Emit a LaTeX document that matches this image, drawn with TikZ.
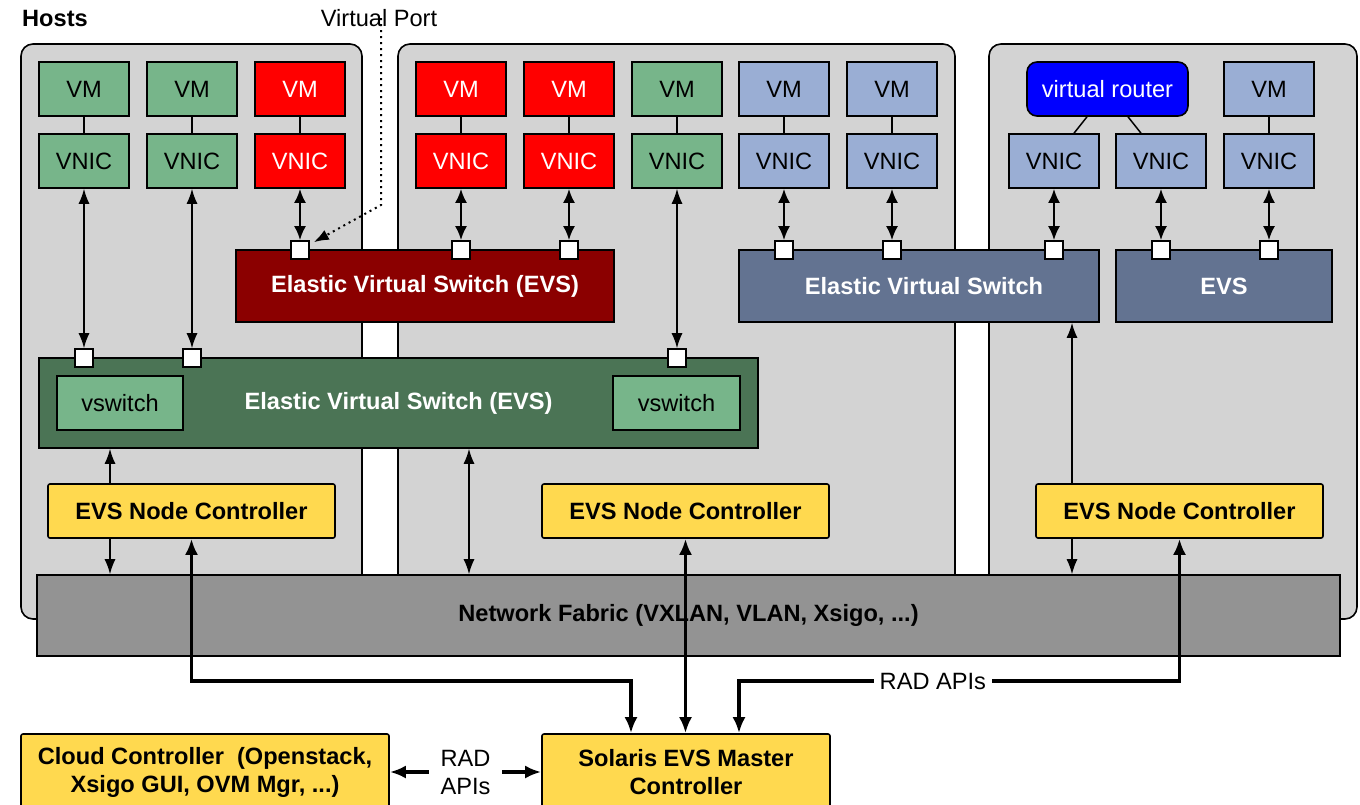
\documentclass[tikz,border=0pt]{standalone}
\usepackage{fontspec}
\setmainfont{Liberation Sans}
\usetikzlibrary{arrows.meta}

\definecolor{hostgray}{HTML}{D3D3D3}
\definecolor{fabricgray}{HTML}{939393}
\definecolor{vmgreen}{HTML}{77B58A}
\definecolor{evsgreen}{HTML}{4B7455}
\definecolor{vmred}{HTML}{FF0000}
\definecolor{evsred}{HTML}{8B0000}
\definecolor{vmblue}{HTML}{9AAED4}
\definecolor{evsblue}{HTML}{637391}
\definecolor{routerblue}{HTML}{0000FF}
\definecolor{ctrlyellow}{HTML}{FFD94F}

\newcommand{\sz}{\fontsize{23.6}{28}\selectfont}

\begin{document}
\begin{tikzpicture}[x=1pt, y=-1pt, font=\sz,
  box/.style={draw, line width=1.6pt, minimum width=90pt, minimum height=54pt, inner sep=0pt, font=\sz},
  gbox/.style={box, fill=vmgreen},
  rbox/.style={box, fill=vmred, text=white},
  bbox/.style={box, fill=vmblue},
  switch/.style={draw, line width=1.6pt, minimum height=72pt, text=white, font=\sz\bfseries},
  ctrl/.style={draw, line width=1.6pt, fill=ctrlyellow, rounded corners=2pt, minimum width=287pt, minimum height=54pt, font=\sz\bfseries},
  host/.style={draw, line width=1.6pt, fill=hostgray, rounded corners=12pt},
  link/.style={line width=1.5pt},
  thinbi/.style={line width=1.4pt, {Latex[length=15pt,width=11pt]}-{Latex[length=15pt,width=11pt]}},
  thinarr/.style={line width=1.4pt, -{Latex[length=15pt,width=11pt]}},
  medbi/.style={line width=2.4pt, {Latex[length=14pt,width=12pt]}-{Latex[length=14pt,width=12pt]}},
  bigbi/.style={line width=3.2pt, {Latex[length=16pt,width=13pt]}-{Latex[length=16pt,width=13pt]}}]
\def\port{node [draw, fill=white, line width=1.6pt, minimum size=18pt, inner sep=0pt] }
\useasboundingbox (0,0) rectangle (1360,804);

% hosts
\draw[host] (21,44) rectangle (362,619);
\draw[host] (398,44) rectangle (955,619);
\draw[host] (989,44) rectangle (1357,619);
\node[anchor=west, inner sep=0pt, font=\sz\bfseries] (hosts) at (22,18) {Hosts};

% VMs and VNICs
\node[gbox] (vm1) at (84,89) {VM};
\node[gbox] (vnic1) at (84,161) {VNIC};
\node[gbox] (vm2) at (192,89) {VM};
\node[gbox] (vnic2) at (192,161) {VNIC};
\node[rbox] (vm3) at (300,89) {VM};
\node[rbox] (vnic3) at (300,161) {VNIC};
\node[rbox] (vm4) at (461,89) {VM};
\node[rbox] (vnic4) at (461,161) {VNIC};
\node[rbox] (vm5) at (569,89) {VM};
\node[rbox] (vnic5) at (569,161) {VNIC};
\node[gbox] (vm6) at (677,89) {VM};
\node[gbox] (vnic6) at (677,161) {VNIC};
\node[bbox] (vm7) at (784,89) {VM};
\node[bbox] (vnic7) at (784,161) {VNIC};
\node[bbox] (vm8) at (892,89) {VM};
\node[bbox] (vnic8) at (892,161) {VNIC};
\node[box, fill=routerblue, text=white, rounded corners=10pt, minimum width=161pt] (router) at (1107.5,89) {virtual router};
\node[bbox] (vnic9) at (1054,161) {VNIC};
\node[bbox] (vnic10) at (1161,161) {VNIC};
\node[bbox] (vm11) at (1269,89) {VM};
\node[bbox] (vnic11) at (1269,161) {VNIC};

% switches
\node[switch, fill=evsred, minimum width=378pt] (revs) at (425,286) {\raisebox{-3pt}{Elastic Virtual Switch (EVS)}};
\node[switch, fill=evsblue, minimum width=360pt] (bevs) at (919,286) {\raisebox{1pt}{\hspace{10pt}Elastic Virtual Switch}};
\node[switch, fill=evsblue, minimum width=216pt] (sevs) at (1224,286) {EVS};
\node[switch, fill=evsgreen, minimum width=719pt, minimum height=90pt] (gevs) at (398.5,403) {\raisebox{-3pt}{Elastic Virtual Switch (EVS)}};
\node[gbox, minimum width=126pt] (vsw1) at (120,403) {vswitch};
\node[gbox, minimum width=127pt] (vsw2) at (676.5,403) {vswitch};

% ports
\draw (84,358) \port (p1) {};
\draw (192,358) \port (p2) {};
\draw (677,358) \port (p3) {};
\draw (300,250) \port (p4) {};
\draw (461,250) \port (p5) {};
\draw (569,250) \port (p6) {};
\draw (784,250) \port (p7) {};
\draw (892,250) \port (p8) {};
\draw (1054,250) \port (p9) {};
\draw (1161,250) \port (p10) {};
\draw (1269,250) \port (p11) {};

% controllers and fabric
\node[ctrl] (nc1) at (191.5,511) {EVS Node Controller};
\node[ctrl] (nc2) at (685.5,511) {EVS Node Controller};
\node[ctrl] (nc3) at (1179.5,511) {EVS Node Controller};
\node[draw, line width=1.6pt, fill=fabricgray, minimum width=1303pt, minimum height=81pt, font=\sz\bfseries] (fabric) at (688.5,615.5) {\raisebox{-3pt}{Network Fabric (VXLAN, VLAN, Xsigo, ...)}};
\node[ctrl, minimum width=288pt, minimum height=76pt, align=center] (master) at (686,772) {Solaris EVS Master\\Controller};
\node[ctrl, minimum width=368pt, minimum height=76pt, align=center] (cloud) at (205,772) {Cloud Controller\ \ (Openstack,\\Xsigo GUI, OVM Mgr, ...)};

% VM to VNIC
\draw[link] (vm1) -- (vnic1);
\draw[link] (vm2) -- (vnic2);
\draw[link] (vm3) -- (vnic3);
\draw[link] (vm4) -- (vnic4);
\draw[link] (vm5) -- (vnic5);
\draw[link] (vm6) -- (vnic6);
\draw[link] (vm7) -- (vnic7);
\draw[link] (vm8) -- (vnic8);
\draw[link] (vm11) -- (vnic11);
\draw[link] (1087,0 |- router.south) -- (1074,0 |- vnic9.north);
\draw[link] (1128,0 |- router.south) -- (1141,0 |- vnic10.north);

% VNIC to port
\draw[thinbi] (vnic1) -- (p1);
\draw[thinbi] (vnic2) -- (p2);
\draw[thinbi] (vnic6) -- (p3);
\draw[medbi] (vnic3) -- (p4);
\draw[medbi] (vnic4) -- (p5);
\draw[medbi] (vnic5) -- (p6);
\draw[medbi] (vnic7) -- (p7);
\draw[medbi] (vnic8) -- (p8);
\draw[medbi] (vnic9) -- (p9);
\draw[medbi] (vnic10) -- (p10);
\draw[medbi] (vnic11) -- (p11);

% virtual port pointer
\node[inner sep=0pt] (vport) at (379,18) {Virtual Port};
\coordinate (vpbend) at (381,205);
\draw[line width=2pt, dash pattern=on 2pt off 4pt, -{Latex[length=15pt,width=11pt]}] (381,0 |- vport.center) -- (vpbend) -- ([shift={(4pt,-2pt)}]p4.north east);

% node controllers
\draw[thinarr] (110,0 |- nc1.north) -- (110,0 |- gevs.south);
\draw[thinarr] (110,0 |- nc1.south) -- (110,0 |- fabric.north);
\draw[thinbi] (469,0 |- gevs.south) -- (469,0 |- fabric.north);
\draw[thinarr] (1072,0 |- nc3.north) -- (1072,0 |- bevs.south);
\draw[thinarr] (1072,0 |- nc3.south) -- (1072,0 |- fabric.north);

% RAD APIs
\draw[bigbi] (nc1.south) |- (631,681) -- (master.north -| 631,0);
\draw[bigbi] (nc2.south) -- (master.north -| nc2.south);
\draw[bigbi] (nc3.south) |- (739,681) node[pos=0.78, fill=white, inner xsep=6pt] (radr) {RAD APIs} -- (master.north -| 739,0);
\draw[bigbi] (cloud) -- (master) node[midway, fill=white, align=center, inner xsep=12pt] (radl) {RAD\\APIs};

\end{tikzpicture}
\end{document}
